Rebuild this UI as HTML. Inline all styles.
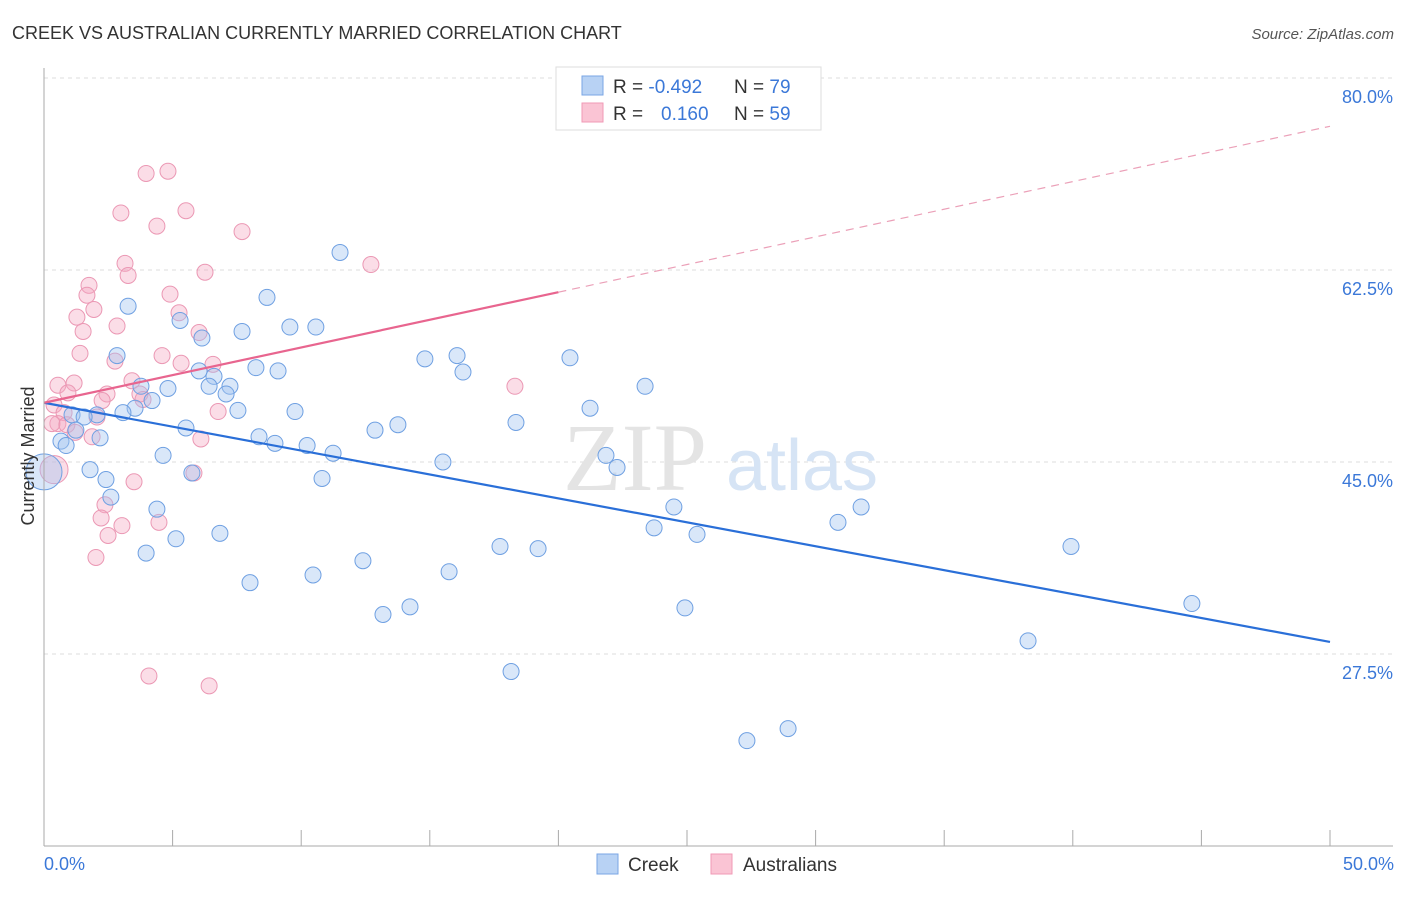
<!DOCTYPE html>
<html><head><meta charset="utf-8"><style>
body{margin:0;background:#fff;font-family:"Liberation Sans",sans-serif}
</style></head><body>
<svg id="chart" width="1406" height="892" xmlns="http://www.w3.org/2000/svg">
<text x="12" y="39" font-size="18" fill="#333">CREEK VS AUSTRALIAN CURRENTLY MARRIED CORRELATION CHART</text>
<text x="1394" y="39" font-size="15" fill="#555" font-style="italic" text-anchor="end">Source: ZipAtlas.com</text>
<g id="grid"></g>
<text x="635" y="490" font-size="96" font-family="Liberation Serif,serif" fill="#e4e4e4" text-anchor="middle">ZIP</text>
<text x="802" y="490" font-size="72" fill="#d6e4f5" text-anchor="middle">atlas</text>
<g id="points"></g>
<g id="trend"></g>
<line x1="44" y1="68" x2="44" y2="846" stroke="#aaa"/>
<line x1="44" y1="846" x2="1393" y2="846" stroke="#aaa"/>
<text transform="translate(34,456) rotate(-90)" font-size="18" fill="#333" text-anchor="middle">Currently Married</text>
<text x="44" y="870" font-size="18" fill="#3b78d8">0.0%</text>
<text x="1394" y="870" font-size="18" fill="#3b78d8" text-anchor="end">50.0%</text>
<g>
<rect x="556" y="67" width="265" height="63" fill="#fff" stroke="#ddd"/>
<rect x="582" y="76" width="21" height="19" fill="#b8d2f4" stroke="#7aa6e4"/>
<rect x="582" y="103" width="21" height="19" fill="#fac4d4" stroke="#f09ab6"/>
<text x="613" y="93" font-size="19" fill="#333">R = <tspan fill="#3b78d8">-0.492</tspan></text>
<text x="734" y="93" font-size="19" fill="#333">N = <tspan fill="#3b78d8">79</tspan></text>
<text x="613" y="120" font-size="19" fill="#333">R = <tspan fill="#3b78d8" x="661">0.160</tspan></text>
<text x="734" y="120" font-size="19" fill="#333">N = <tspan fill="#3b78d8">59</tspan></text>
</g>
<g><rect x="597" y="854" width="21" height="20" fill="#b8d2f4" stroke="#7aa6e4"/><text x="628" y="871" font-size="19" fill="#333">Creek</text></g>
<g><rect x="711" y="854" width="21" height="20" fill="#fac4d4" stroke="#f09ab6"/><text x="743" y="871" font-size="19" fill="#333">Australians</text></g>
</svg>
<script>
const yTicks=[80,62.5,45,27.5];
const yTickLabels=["80.0%","62.5%","45.0%","27.5%"];
const xTicks=[0,5,10,15,20,25,30,35,40,45,50];
const creekX=[3.27,8.67,11.51,5.29,7.70,9.56,10.57,6.14,2.84,14.81,16.06,16.29,20.45,23.37,6.03,8.24,9.10,6.61,3.77,4.82,6.42,7.23,7.08,4.20,3.54,3.07,2.06,1.09,1.56,7.54,9.76,21.23,18.35,5.52,12.87,13.76,1.24,2.18,8.36,8.98,10.23,11.24,0.66,0.86,4.63,15.51,21.85,22.28,1.79,5.75,10.81,2.41,2.60,4.39,24.49,31.77,30.87,23.72,25.39,6.84,5.13,17.73,19.21,39.93,3.97,12.40,15.75,10.46,8.01,14.23,13.18,24.92,44.63,38.26,18.16,28.93,27.33,0];
const creekY=[59.2,60.0,64.1,57.9,56.9,57.3,57.3,56.3,54.7,54.4,54.7,53.2,54.5,51.9,53.3,53.6,53.3,52.8,51.9,51.7,51.9,51.9,51.2,50.6,49.9,49.5,49.3,49.3,49.1,49.7,49.6,49.9,48.6,48.1,47.9,48.4,47.9,47.2,47.3,46.7,46.5,45.8,46.9,46.5,45.6,45.0,45.6,44.5,44.3,44.0,43.5,43.4,41.8,40.7,40.9,40.9,39.5,39.0,38.4,38.5,38.0,37.3,37.1,37.3,36.7,36.0,35.0,34.7,34.0,31.8,31.1,31.7,32.1,28.7,25.9,20.7,19.6,44.1];
const ausX=[4.82,3.97,2.99,5.52,4.39,7.70,3.15,12.71,6.26,3.27,1.75,1.67,4.90,1.94,1.28,5.25,2.84,1.52,6.03,1.40,4.59,5.33,2.76,6.57,0.54,1.17,3.42,0.93,2.45,3.73,18.31,2.26,3.85,0.39,6.77,0.78,2.06,0.54,0.31,0.89,1.21,1.87,6.10,5.83,3.50,2.37,2.22,4.47,3.03,2.49,2.02,4.08,6.42,0.39];
const ausY=[71.5,71.3,67.7,67.9,66.5,66.0,63.1,63.0,62.3,62.0,61.1,60.2,60.3,58.9,58.2,58.6,57.4,56.9,56.8,54.9,54.7,54.0,54.2,53.9,52.0,52.2,52.4,51.3,51.2,51.2,51.9,50.6,50.7,50.2,49.6,49.5,49.1,48.5,48.5,48.4,47.7,47.3,47.1,44.0,43.2,41.1,39.9,39.5,39.2,38.3,36.3,25.5,24.6,44.3];
const creekTrend=[50.4,28.6];
const ausTrend=[50.4,75.6];
const ausSolidEnd=20;

const NS="http://www.w3.org/2000/svg";
const sx=v=>44+v/50*1286;
const sy=v=>78+(80-v)/17.5*192;
function mk(tag,attrs,parent){const e=document.createElementNS(NS,tag);for(const k in attrs)e.setAttribute(k,attrs[k]);parent.appendChild(e);return e;}
const grid=document.getElementById('grid');
yTicks.forEach((t,i)=>{
 const l=mk('line',{x1:44,x2:1393,y1:sy(t),y2:sy(t),stroke:'#ddd','stroke-dasharray':'4,4'},grid);
 
 
 const tx=mk('text',{x:1393,y:sy(t)+25,'font-size':18,fill:'#3b78d8','text-anchor':'end'},grid);
 tx.textContent=yTickLabels[i];
 
 
});
xTicks.forEach(t=>{
 const l=mk('line',{x1:sx(t),x2:sx(t),y1:830,y2:846,stroke:'#aaa'},grid);
 
 
});
const pts=document.getElementById('points');
ausX.forEach((x,i)=>{
 const big=(i===ausX.length-1);
 const c=mk('circle',{cx:sx(x),cy:sy(ausY[i]),r:big?14:8,fill:'rgba(244,170,196,0.4)',stroke:'#eb98b4','stroke-width':1},pts);
 
 
});
creekX.forEach((x,i)=>{
 const big=(i===creekX.length-1);
 const c=mk('circle',{cx:sx(x),cy:sy(creekY[i]),r:big?18:8,fill:'rgba(160,196,240,0.4)',stroke:'#6fa0e2','stroke-width':1},pts);
 
 
});
const tr=document.getElementById('trend');
const b=mk('line',{x1:sx(0),y1:sy(creekTrend[0]),x2:sx(50),y2:sy(creekTrend[1]),stroke:'#2a6fd8','stroke-width':2.2},tr);


const midY=ausTrend[0]+(ausTrend[1]-ausTrend[0])*ausSolidEnd/50;
const p1=mk('line',{x1:sx(0),y1:sy(ausTrend[0]),x2:sx(ausSolidEnd),y2:sy(midY),stroke:'#e8658f','stroke-width':2.2},tr);


const p2=mk('line',{x1:sx(ausSolidEnd),y1:sy(midY),x2:sx(50),y2:sy(ausTrend[1]),stroke:'#eba0b8','stroke-width':1.2,'stroke-dasharray':'8,6'},tr);


</script>
</body></html>
